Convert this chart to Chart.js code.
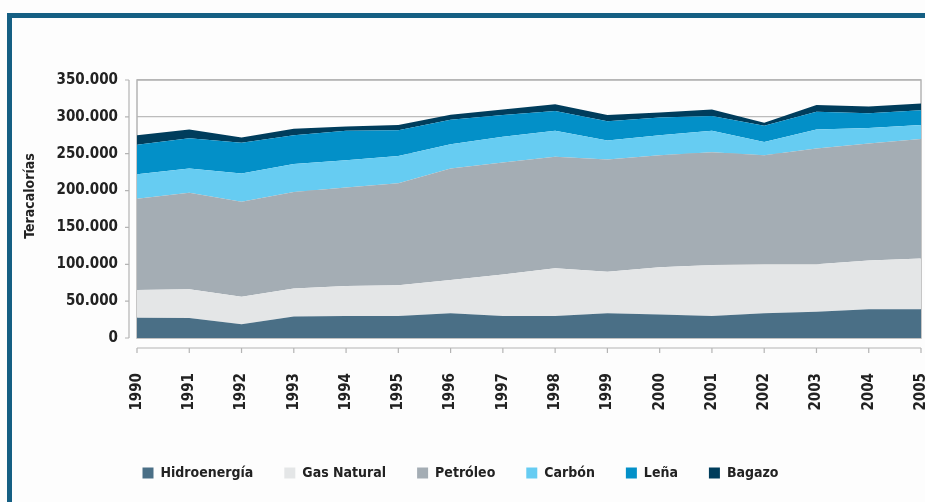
<!DOCTYPE html>
<html lang="es">
<head>
<meta charset="UTF-8">
<title>Consumo de energía</title>
<style>
  html, body { margin: 0; padding: 0; background: #fdfdfd; }
  #wrap { position: relative; width: 925px; height: 502px; overflow: hidden; }
  #frame { position: absolute; left: 7px; top: 13px; right: -10px; bottom: -10px;
           border-left: 5px solid #155f83; border-top: 5px solid #155f83; }
  canvas { position: absolute; left: 0; top: 0; }
</style>
</head>
<body>
<script src="https://cdn.jsdelivr.net/npm/chart.js"></script>
<div id="wrap">
  <div id="frame"></div>
  <canvas id="myChart" width="925" height="502"></canvas>
</div>
<script>
  var years = ['1990','1991','1992','1993','1994','1995','1996','1997','1998','1999','2000','2001','2002','2003','2004','2005']
  var hidroenergia = [27500, 27000, 18500, 29000, 30000, 30000, 33500, 30000, 30000, 33500, 32000, 30000, 33500, 35700, 39000, 39000]
  var gasNatural = [37500, 39000, 37500, 38000, 40500, 41500, 45200, 56000, 64500, 56500, 64000, 69000, 66500, 64300, 66000, 69000]
  var petroleo = [124000, 131000, 129000, 131000, 133500, 138500, 151300, 152000, 151500, 152000, 152000, 153000, 148000, 157000, 159000, 162000]
  var carbon = [33000, 33000, 38000, 38000, 37000, 37000, 33000, 35000, 35000, 26000, 27000, 29000, 18000, 26000, 21000, 19000]
  var lena = [40000, 41000, 42000, 39000, 40000, 35000, 33000, 29500, 27000, 26000, 24000, 20000, 22000, 24000, 20000, 20000]
  var bagazo = [13000, 12000, 7000, 9000, 6000, 7000, 7000, 7500, 9000, 8500, 7000, 9000, 4000, 9000, 9000, 9000]
  var yTitle = 'Teracalorías'

  var fontFamily = '"DejaVu Sans Condensed", "DejaVu Sans", sans-serif'

  function serie(label, values, color, fill) {
    return {
      label: label,
      data: values,
      backgroundColor: color,
      borderColor: color,
      borderWidth: 0,
      pointRadius: 0,
      pointHoverRadius: 0,
      tension: 0,
      fill: fill
    }
  }

  // frame around the plot, the detached axes lines and the y title
  const axesPlugin = {
    id: 'axesPlugin',
    beforeDatasetsDraw(chart) {
      const ctx = chart.ctx
      const a = chart.chartArea
      ctx.save()
      ctx.strokeStyle = '#b4b4b4'
      ctx.lineWidth = 1.5
      ctx.strokeRect(a.left, a.top, a.right - a.left, a.bottom - a.top)
      ctx.restore()
    },
    afterDraw(chart) {
      const ctx = chart.ctx
      const a = chart.chartArea
      const x = chart.scales.x
      const y = chart.scales.y
      ctx.save()
      ctx.strokeStyle = '#b4b4b4'
      ctx.lineWidth = 1.2
      const ay = a.bottom + 10
      ctx.beginPath()
      ctx.moveTo(a.left, ay)
      ctx.lineTo(a.right, ay)
      years.forEach((yr, i) => {
        const px = x.getPixelForValue(i)
        ctx.moveTo(px, ay)
        ctx.lineTo(px, ay + 5)
      })
      const ax = a.left - 8
      ctx.moveTo(ax, y.getPixelForValue(0))
      ctx.lineTo(ax, y.getPixelForValue(350000))
      for (let v = 0; v <= 350000; v += 50000) {
        const py = y.getPixelForValue(v)
        ctx.moveTo(ax, py)
        ctx.lineTo(ax - 4, py)
      }
      ctx.stroke()
      ctx.translate(30, 196)
      ctx.rotate(-Math.PI / 2)
      ctx.fillStyle = '#222'
      ctx.font = 'bold 14px ' + fontFamily
      ctx.textAlign = 'center'
      ctx.textBaseline = 'middle'
      ctx.fillText(yTitle, 0, 0)
      ctx.restore()
    }
  }

  const data = {
    labels: years,
    datasets: [
      serie('Hidroenergía', hidroenergia, '#4a6f86', 'origin'),
      serie('Gas Natural', gasNatural, '#e4e6e7', '-1'),
      serie('Petróleo', petroleo, '#a4adb4', '-1'),
      serie('Carbón', carbon, '#66ccf2', '-1'),
      serie('Leña', lena, '#0390c8', '-1'),
      serie('Bagazo', bagazo, '#003d5c', '-1')
    ]
  }

  const config = {
    type: 'line',
    data,
    plugins: [axesPlugin],
    options: {
      responsive: false,
      animation: false,
      layout: { padding: { top: 80, right: 4, bottom: 12, left: 0 } },
      plugins: {
        tooltip: { enabled: false },
        legend: {
          position: 'bottom',
          labels: {
            boxWidth: 11,
            boxHeight: 11,
            padding: 31,
            color: '#222',
            font: { family: fontFamily, size: 14, weight: 'bold' }
          }
        }
      },
      scales: {
        x: {
          grid: { display: false, drawTicks: false },
          border: { display: false },
          ticks: {
            color: '#222',
            padding: 35,
            minRotation: 90,
            maxRotation: 90,
            autoSkip: false,
            font: { family: fontFamily, size: 15, weight: 'bold' }
          },
          afterFit(scale) {
            scale.height = 97
            scale.paddingLeft = 0
            scale.paddingRight = 0
          }
        },
        y: {
          stacked: true,
          min: 0,
          max: 350000,
          grid: { color: '#bcbcbc', lineWidth: 1.2, drawTicks: false },
          border: { display: false },
          ticks: {
            stepSize: 50000,
            padding: 19,
            color: '#222',
            font: { family: fontFamily, size: 15, weight: 'bold' },
            callback: function (v) { return v.toLocaleString('de-DE') }
          },
          afterFit(scale) {
            scale.width = 137
          }
        }
      }
    }
  }

  var myChart = new Chart(document.getElementById('myChart'), config)
</script>
</body>
</html>
